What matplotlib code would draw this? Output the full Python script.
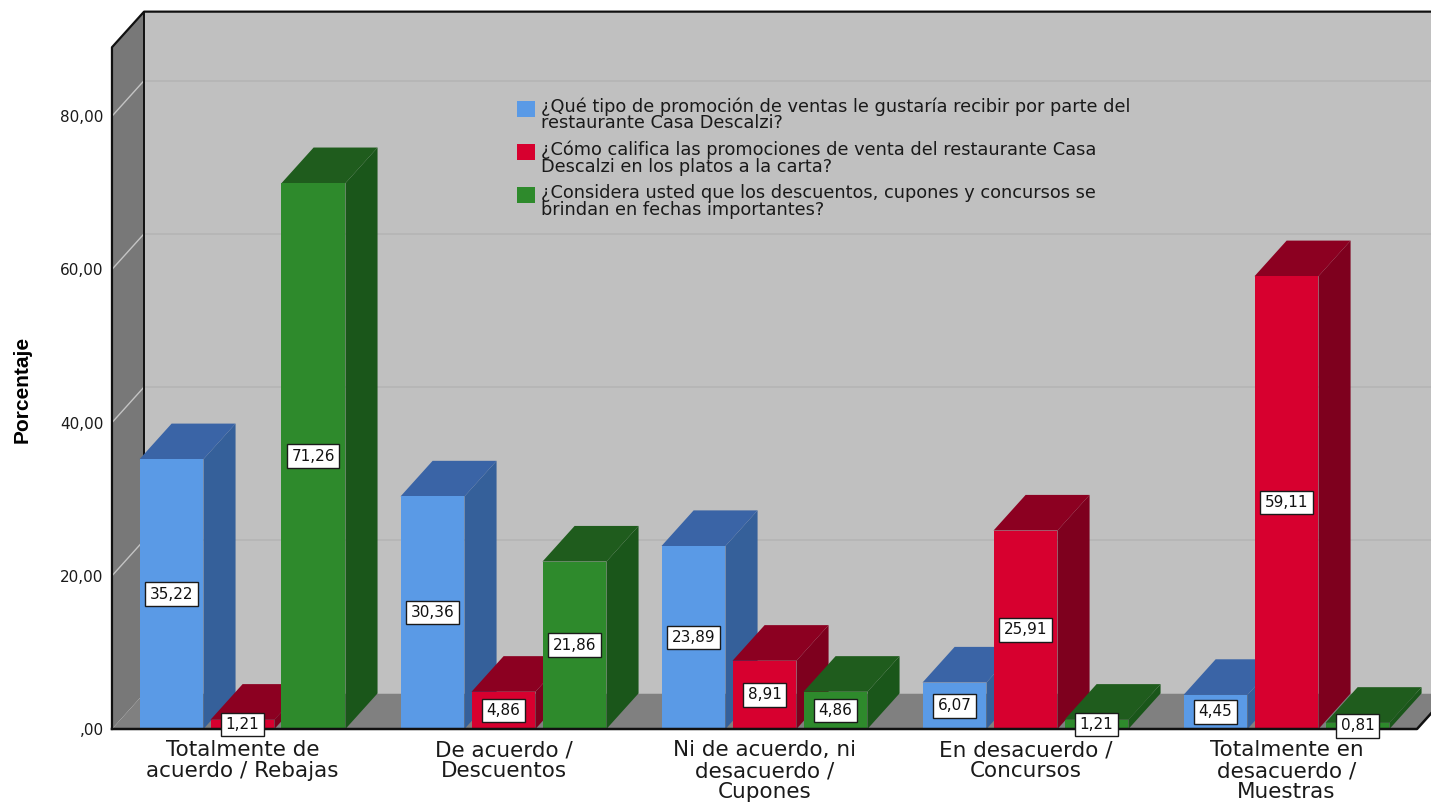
import matplotlib
matplotlib.use("Agg")
import matplotlib.pyplot as plt
from matplotlib.patches import Patch, Polygon

categorias = ["Totalmente de\nacuerdo / Rebajas", "De acuerdo /\nDescuentos",
              "Ni de acuerdo, ni\ndesacuerdo /\nCupones", "En desacuerdo /\nConcursos",
              "Totalmente en\ndesacuerdo /\nMuestras"]
tipo_promocion = [35.22, 30.36, 23.89, 6.07, 4.45]
califica_promociones = [1.21, 4.86, 8.91, 25.91, 59.11]
fechas_importantes = [71.26, 21.86, 4.86, 1.21, 0.81]
nombres = ["¿Qué tipo de promoción de ventas le gustaría recibir por parte del\nrestaurante Casa Descalzi?",
           "¿Cómo califica las promociones de venta del restaurante Casa\nDescalzi en los platos a la carta?",
           "¿Considera usted que los descuentos, cupones y concursos se\nbrindan en fechas importantes?"]
yticks = [0, 20, 40, 60, 80]
ytick_labels = [",00", "20,00", "40,00", "60,00", "80,00"]

# (frente, arriba, costado)
colores = [("#5a9ae6", "#3a64a6", "#35609a"),
           ("#d7002f", "#8c0021", "#7e001e"),
           ("#2e8a2c", "#1f5c1d", "#1a561a")]

series = [tipo_promocion, califica_promociones, fechas_importantes]

# profundidad del efecto 3D (en unidades de datos)
DX = 0.123
DY = 4.65
ANCHO = 0.245
PASO = 0.272
X0, X1, TOPE = -0.5, 4.5, 89

fig = plt.figure(figsize=(14.31, 8.11), dpi=100)
ax = fig.add_axes([0, 0, 1, 1])
ax.set_xlim(-0.929, 4.5536)
ax.set_ylim(-10.705, 95.17)

# paredes y piso
ax.add_patch(Polygon([(X0 + DX, DY), (X0 + DX, TOPE + DY), (X1 + DX, TOPE + DY), (X1 + DX, DY)],
                     closed=True, fc="#c0c0c0", ec="none", zorder=1))
ax.add_patch(Polygon([(X0, 0), (X0, TOPE), (X0 + DX, TOPE + DY), (X0 + DX, DY)],
                     closed=True, fc="#787878", ec="none", zorder=1))
ax.add_patch(Polygon([(X0, 0), (X1, 0), (X1 + DX, DY), (X0 + DX, DY)],
                     closed=True, fc="#808080", ec="none", zorder=1))

for t in yticks[1:]:
    ax.plot([X0 + DX, X1 + DX], [t + DY, t + DY], color="#b4b4b4", lw=1.2, zorder=2)
    ax.plot([X0, X0 + DX], [t, t + DY], color="#c4c4c4", lw=1.0, zorder=2)

# bordes negros
ax.plot([X0, X0, X0 + DX, X1 + DX], [0, TOPE, TOPE + DY, TOPE + DY], color="#111111", lw=1.6, zorder=3)
ax.plot([X0 + DX, X0 + DX], [DY, TOPE + DY], color="#111111", lw=1.4, zorder=3)

# barras 3D, de izquierda a derecha
z = 10
for i in range(len(categorias)):
    for j, vals in enumerate(series):
        v = vals[i]
        xc = i + (j - 1) * PASO
        xl, xr = xc - ANCHO / 2, xc + ANCHO / 2
        frente, arriba, costado = colores[j]
        ax.add_patch(Polygon([(xr, 0), (xr + DX, DY), (xr + DX, v + DY), (xr, v)],
                             closed=True, fc=costado, ec="none", zorder=z))
        ax.add_patch(Polygon([(xl, v), (xl + DX, v + DY), (xr + DX, v + DY), (xr, v)],
                             closed=True, fc=arriba, ec="none", zorder=z))
        b = ax.bar(xc, v, ANCHO, color=frente, lw=0)
        b.patches[0].set_zorder(z + 1)
        z += 2

ax.plot([X0, X1, X1 + DX], [0, 0, DY], color="#111111", lw=1.8, zorder=z)

# etiquetas de valor
for i in range(len(categorias)):
    for j, vals in enumerate(series):
        v = vals[i]
        xc = i + (j - 1) * PASO
        ax.text(xc, v / 2, f"{v:.2f}".replace(".", ","), ha="center", va="center",
                fontsize=11, color="#111111", zorder=200,
                bbox=dict(boxstyle="square,pad=0.28", fc="white", ec="#1a1a1a", lw=1))

for i, c in enumerate(categorias):
    ax.text(i, -1.5, c, ha="center", va="top", fontsize=15.5, color="#1a1a1a",
            linespacing=1.05)

# eje y
for s in ["top", "right", "bottom"]:
    ax.spines[s].set_visible(False)
ax.spines["left"].set_position(("data", X0))
ax.spines["left"].set_color("none")
ax.set_xticks([])
ax.set_yticks(yticks)
ax.set_yticklabels(ytick_labels)
ax.tick_params(axis="y", length=0, pad=6, labelsize=11, labelcolor="#1a1a1a")
ax.set_ylabel("Porcentaje", fontsize=15, fontweight="bold", family="Liberation Sans")
ax.yaxis.set_label_coords(32 / 1431, 0.52)

handles = [Patch(fc=c[0], ec="none") for c in colores]
leg = ax.legend(handles, nombres, loc="upper left", bbox_to_anchor=(517 / 1431, 1 - 97 / 811),
                frameon=False, borderpad=0, borderaxespad=0, fontsize=12.8,
                handlelength=1.0, handleheight=1.0, handletextpad=0.35, labelspacing=0.45,
                labelcolor="#1a1a1a")
for t in leg.get_texts():
    t.set_linespacing(0.92)
# subir un poco los cuadrados hacia la primera línea
for h in leg.legend_handles:
    h.set_y(h.get_y() + 5)

fig.savefig("out.png", dpi=100, facecolor="white")
